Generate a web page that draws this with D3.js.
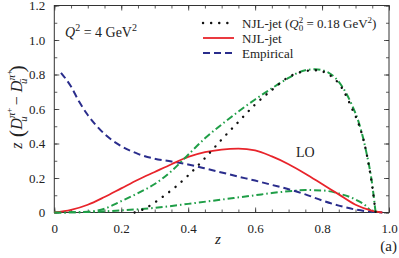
<!DOCTYPE html>
<html>
<head>
<meta charset="utf-8">
<script src="https://cdn.jsdelivr.net/npm/d3@7"></script>
<style>
  body { margin: 0; background: #fff; }
</style>
</head>
<body>
<div id="chart"></div>
<script>
// values
const zNjlQ0 = [0.24, 0.27, 0.3, 0.33, 0.36, 0.4, 0.45, 0.5, 0.55, 0.6, 0.65, 0.7, 0.75, 0.78, 0.82, 0.86, 0.89, 0.91, 0.93, 0.94, 0.95, 0.96];
const vNjlQ0 = [0, 0.022, 0.058, 0.1, 0.145, 0.215, 0.315, 0.423, 0.525, 0.626, 0.71, 0.785, 0.82, 0.825, 0.8, 0.72, 0.6, 0.51, 0.37, 0.27, 0.15, 0];

const zNjl = [0, 0.05, 0.1, 0.15, 0.2, 0.25, 0.3, 0.35, 0.4, 0.45, 0.5, 0.55, 0.6, 0.65, 0.7, 0.75, 0.8, 0.85, 0.9, 0.95, 0.98];
const vNjl = [0, 0.015, 0.045, 0.09, 0.14, 0.19, 0.235, 0.28, 0.322, 0.35, 0.365, 0.37, 0.36, 0.325, 0.28, 0.225, 0.165, 0.105, 0.045, 0.01, 0];

const zEmp = [0.02, 0.05, 0.075, 0.1, 0.125, 0.15, 0.2, 0.25, 0.3, 0.35, 0.4, 0.45, 0.5, 0.55, 0.6, 0.65, 0.7, 0.75, 0.8, 0.85, 0.9, 0.95, 0.98];
const vEmp = [0.81, 0.73, 0.64, 0.565, 0.505, 0.455, 0.385, 0.34, 0.312, 0.296, 0.278, 0.256, 0.232, 0.208, 0.185, 0.16, 0.135, 0.105, 0.07, 0.04, 0.017, 0.004, 0];

const zGreenHi = [0, 0.05, 0.1, 0.15, 0.2, 0.25, 0.3, 0.35, 0.4, 0.45, 0.5, 0.55, 0.6, 0.65, 0.7, 0.75, 0.78, 0.82, 0.86, 0.89, 0.91, 0.93, 0.95, 0.96];
const vGreenHi = [0, 0.001, 0.004, 0.022, 0.066, 0.112, 0.165, 0.24, 0.335, 0.43, 0.51, 0.585, 0.655, 0.72, 0.78, 0.825, 0.83, 0.81, 0.73, 0.62, 0.52, 0.37, 0.16, 0];

const zGreenLo = [0, 0.1, 0.2, 0.3, 0.4, 0.5, 0.6, 0.65, 0.7, 0.75, 0.8, 0.85, 0.9, 0.93, 0.95];
const vGreenLo = [0, 0.003, 0.012, 0.027, 0.05, 0.075, 0.1, 0.113, 0.123, 0.13, 0.128, 0.11, 0.075, 0.04, 0];

const xTicks = [0, 0.2, 0.4, 0.6, 0.8, 1.0];
const yTicks = [0, 0.2, 0.4, 0.6, 0.8, 1.0, 1.2];
const legendNames = ["NJL-jet", "NJL-jet", "Empirical"];

const FONT = "'Liberation Serif', 'Times New Roman', 'DejaVu Serif', serif";
const margin = {top: 5.5, right: 10, bottom: 45.5, left: 54.3};
const W = 399, H = 258;
const width = W - margin.left - margin.right;
const height = H - margin.top - margin.bottom;

const svg = d3.select("#chart").append("svg")
  .attr("width", W).attr("height", H)
  .attr("font-family", FONT);
const g = svg.append("g")
  .attr("transform", "translate(" + margin.left + "," + margin.top + ")");

const x = d3.scaleLinear().domain([0, 1]).range([0, width]);
const y = d3.scaleLinear().domain([0, 1.2]).range([height, 0]);

// ticks on all four sides, pointing in
function tickAxis(axis, vals, size, fmt) {
  return axis.tickValues(vals).tickSize(size).tickPadding(4).tickFormat(fmt || "");
}
const fmt = d => d === 0 ? "0" : d3.format(".1f")(d);
const xMinor = d3.range(0, 1.0001, 0.05);
const yMinor = d3.range(0, 1.2001, 0.1);

function styleAxis(sel) {
  sel.attr("font-family", FONT);
  sel.select(".domain").remove();
  sel.selectAll("line").attr("stroke", "#333").attr("stroke-width", 0.8);
  sel.selectAll("text").attr("font-size", 13).attr("fill", "#222").attr("font-family", FONT);
}

g.append("g").attr("transform", "translate(0," + height + ")")
  .call(tickAxis(d3.axisBottom(x), xMinor, -3)).call(styleAxis);
g.append("g").attr("transform", "translate(0," + height + ")")
  .call(tickAxis(d3.axisBottom(x), xTicks, -5, fmt).tickPadding(11)).call(styleAxis);
g.append("g").call(tickAxis(d3.axisTop(x), xMinor, -3)).call(styleAxis);
g.append("g").call(tickAxis(d3.axisTop(x), xTicks, -5)).call(styleAxis);

g.append("g").call(tickAxis(d3.axisLeft(y), yMinor, -3)).call(styleAxis);
g.append("g").call(tickAxis(d3.axisLeft(y), yTicks, -5, fmt).tickPadding(9)).call(styleAxis);
g.append("g").attr("transform", "translate(" + width + ",0)")
  .call(tickAxis(d3.axisRight(y), yMinor, -3)).call(styleAxis);
g.append("g").attr("transform", "translate(" + width + ",0)")
  .call(tickAxis(d3.axisRight(y), yTicks, -5)).call(styleAxis);

g.append("rect").attr("width", width).attr("height", height)
  .attr("fill", "none").attr("stroke", "#333").attr("stroke-width", 1);

const line = d3.line()
  .x(d => x(d[0]))
  .y(d => y(d[1]))
  .curve(d3.curveMonotoneX);

const series = [
  {z: zGreenLo, v: vGreenLo, color: "#1f9e47", width: 2, dash: "7,3,1.5,3", cap: "butt"},
  {z: zEmp, v: vEmp, color: "#2a2d8c", width: 2, dash: "7,4", cap: "butt"},
  {z: zNjl, v: vNjl, color: "#e8242b", width: 1.8, dash: null, cap: "butt"},
  {z: zGreenHi, v: vGreenHi, color: "#1f9e47", width: 2, dash: "7,3,1.5,3", cap: "butt"},
  {z: zNjlQ0, v: vNjlQ0, color: "#111", width: 2.4, dash: "0.1,8", cap: "round"}
];

series.forEach(s => {
  g.append("path")
    .datum(s.z.map((z, i) => [z, s.v[i]]))
    .attr("d", line)
    .attr("fill", "none")
    .attr("stroke", s.color)
    .attr("stroke-width", s.width)
    .attr("stroke-linecap", s.cap)
    .attr("stroke-dasharray", s.dash);
});

// legend
const legend = [
  {color: "#111", width: 2.4, dash: "0.1,8", cap: "round", y: 23},
  {color: "#e8242b", width: 1.8, dash: null, cap: "butt", y: 38},
  {color: "#2a2d8c", width: 2, dash: "7,4", cap: "butt", y: 53}
];
legend.forEach((l, i) => {
  svg.append("line")
    .attr("x1", 203).attr("x2", 234).attr("y1", l.y).attr("y2", l.y)
    .attr("stroke", l.color).attr("stroke-width", l.width)
    .attr("stroke-linecap", l.cap).attr("stroke-dasharray", l.dash);
  const t = svg.append("text").attr("x", 242).attr("y", l.y + 4.5).attr("font-size", 13)
    .attr("fill", "#222").text(legendNames[i]);
  if (i === 0) {
    t.append("tspan").text(" (");
    t.append("tspan").attr("font-style", "italic").text("Q");
    t.append("tspan").attr("font-size", 9).attr("dy", -5).text("2");
    t.append("tspan").attr("font-size", 9).attr("dx", -4.5).attr("dy", 8).text("0");
    t.append("tspan").attr("dy", -3).text(" = 0.18 GeV");
    t.append("tspan").attr("font-size", 9).attr("dy", -5).text("2");
    t.append("tspan").attr("dy", 5).text(")");
  }
});

// Q^2 label
const q = svg.append("text").attr("x", 65).attr("y", 36.5).attr("font-size", 14).attr("fill", "#222");
q.append("tspan").attr("font-style", "italic").text("Q");
q.append("tspan").attr("font-size", 10).attr("dy", -6).text("2");
q.append("tspan").attr("dy", 6).text(" = 4 GeV");
q.append("tspan").attr("font-size", 10).attr("dy", -6).text("2");

// LO label
svg.append("text").attr("x", 296).attr("y", 157).attr("font-size", 14).attr("fill", "#222").text("LO");

// x label and panel tag
svg.append("text").attr("x", 218).attr("y", 244).attr("font-size", 15).attr("fill", "#222")
  .attr("font-style", "italic").attr("text-anchor", "middle").text("z");
svg.append("text").attr("x", 397).attr("y", 251).attr("font-size", 15).attr("fill", "#222")
  .attr("text-anchor", "end").text("(a)");

// y label
const yl = svg.append("text")
  .attr("transform", "translate(22," + (margin.top + height / 2 - 2) + ") rotate(-90)")
  .attr("text-anchor", "middle").attr("font-size", 16).attr("fill", "#222");
yl.append("tspan").attr("font-style", "italic").text("z");
yl.append("tspan").attr("font-size", 22).attr("dy", 2).text(" (");
yl.append("tspan").attr("font-style", "italic").attr("dy", -2).text("D");
yl.append("tspan").attr("font-size", 11).attr("font-style", "italic").attr("dy", -7).text("π");
yl.append("tspan").attr("font-size", 9).attr("dy", -3).text("+");
yl.append("tspan").attr("font-size", 11).attr("font-style", "italic").attr("dx", -14).attr("dy", 15).text("u");
yl.append("tspan").attr("dy", -5).attr("dx", 7).text(" − ");
yl.append("tspan").attr("font-style", "italic").text("D");
yl.append("tspan").attr("font-size", 11).attr("font-style", "italic").attr("dy", -7).text("π");
yl.append("tspan").attr("font-size", 9).attr("dy", -3).text("+");
yl.append("tspan").attr("font-size", 11).attr("font-style", "italic").attr("dx", -14).attr("dy", 15).text("ū");
yl.append("tspan").attr("font-size", 22).attr("dy", -3).attr("dx", 6).text(")");
</script>
</body>
</html>
